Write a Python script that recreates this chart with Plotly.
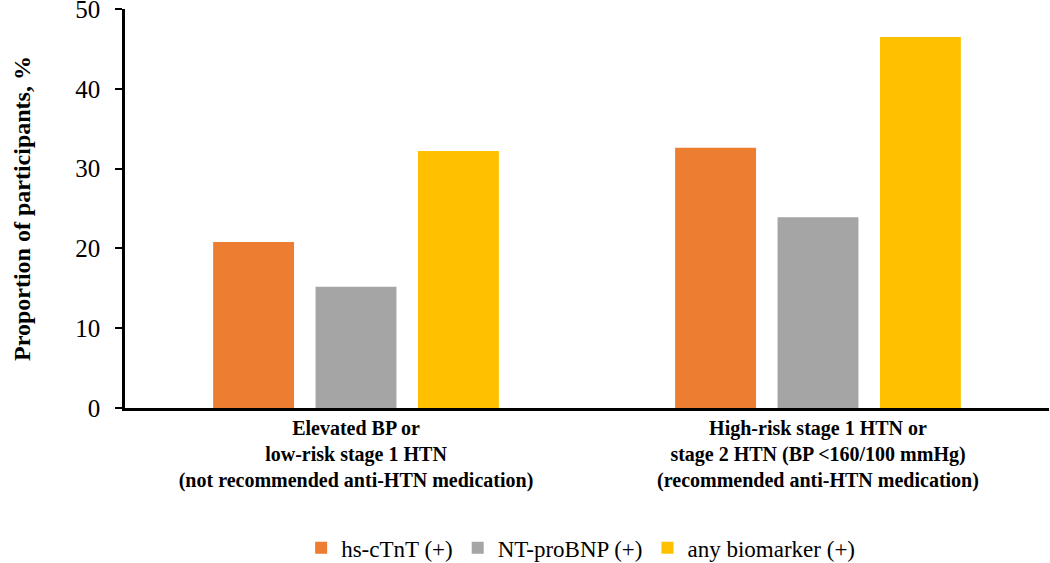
import plotly.graph_objects as go

categories = [
    "<b>Elevated BP or<br>low-risk stage 1 HTN<br>(not recommended anti-HTN medication)</b>",
    "<b>High-risk stage 1 HTN or<br>stage 2 HTN (BP &lt;160/100 mmHg)<br>(recommended anti-HTN medication)</b>",
]
series_names = ["hs-cTnT (+)", "NT-proBNP (+)", "any biomarker (+)"]
hs_ctnt = [20.8, 32.6]
nt_probnp = [15.2, 23.9]
any_biomarker = [32.2, 46.5]
colors = ["#ED7D31", "#A5A5A5", "#FFC000"]
y_ticks = [0, 10, 20, 30, 40, 50]

FONT = "Liberation Serif, Times New Roman, serif"

fig = go.Figure()
for name, vals, col in zip(series_names, [hs_ctnt, nt_probnp, any_biomarker], colors):
    fig.add_trace(go.Bar(x=categories, y=vals, name=name, marker_color=col,
                         marker_line_width=0))

fig.update_layout(
    width=1050, height=563,
    margin=dict(l=125, r=1, t=9, b=155),
    plot_bgcolor="white", paper_bgcolor="white",
    barmode="group", bargap=0.335, bargroupgap=0.21,
    font=dict(family=FONT, color="black"),
    legend=dict(orientation="h", xref="container", yref="container",
                x=0.553, xanchor="center", y=0.027, yanchor="middle",
                font=dict(size=23, family=FONT), itemwidth=30, traceorder="normal"),
    showlegend=True,
)
fig.update_xaxes(
    showline=True, linecolor="black", linewidth=2.5,
    ticks="", tickfont=dict(size=20, family=FONT),
    ticklabelstandoff=0, showgrid=False, automargin=False,
)
fig.update_yaxes(
    range=[0, 50], tickvals=y_ticks, showline=True, linecolor="black", linewidth=2.5,
    ticks="outside", ticklen=7, tickwidth=2, tickcolor="black",
    tickfont=dict(size=25, family=FONT), ticklabelstandoff=10, ticklabeloverflow="allow",
    showgrid=False, zeroline=False,
    title=dict(text="<b>Proportion of participants, %</b>", font=dict(size=24, family=FONT), standoff=38),
    automargin=False,
)

fig.write_html(
    "out.html",
    config={"displayModeBar": False},
    post_script=(
        "document.documentElement.style.cssText='margin:0;padding:0;overflow:hidden;height:563px;width:1050px;';"
        "document.body.style.cssText='margin:0;padding:0;overflow:hidden;height:563px;width:1050px;';"
    ),
)
